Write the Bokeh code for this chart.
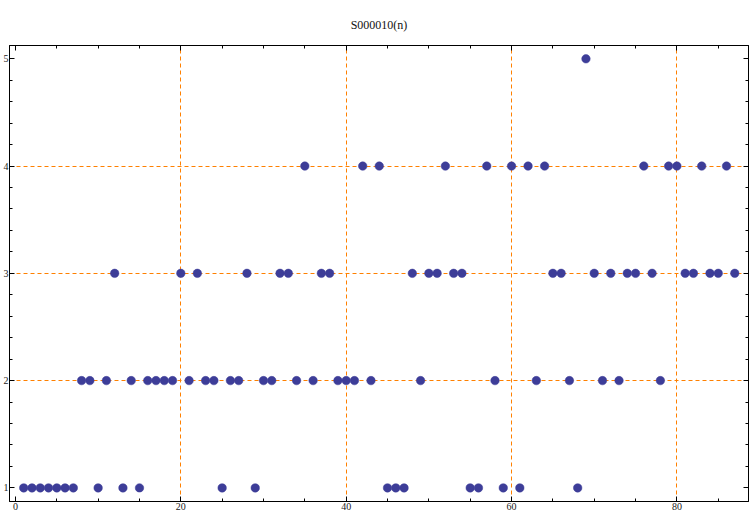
from bokeh.plotting import figure
from bokeh.models import (Range1d, SingleIntervalTicker, FixedTicker, LinearAxis, Grid)
from bokeh.embed import file_html
from bokeh.resources import INLINE

# Data: S000010(n) for n = 1..87
n_values = list(range(1, 88))
s_values = [1, 1, 1, 1, 1, 1, 1, 2, 2, 1,
            2, 3, 1, 2, 1, 2, 2, 2, 2, 3,
            2, 3, 2, 2, 1, 2, 2, 3, 1, 2,
            2, 3, 3, 2, 4, 2, 3, 3, 2, 2,
            2, 4, 2, 4, 1, 1, 1, 3, 2, 3,
            3, 4, 3, 3, 1, 1, 4, 2, 1, 4,
            1, 4, 2, 4, 3, 3, 2, 1, 5, 3,
            2, 3, 2, 3, 3, 4, 3, 2, 4, 4,
            3, 3, 4, 3, 3, 4, 3]
x_grid_ticks = [20, 40, 60, 80]
y_grid_ticks = [2, 3, 4]
x_tick_labels = [0, 20, 40, 60, 80]
y_tick_labels = [1, 2, 3, 4, 5]
title_text = "S000010(n)"

SERIF = "Liberation Serif"
ORANGE = "#ff8000"
DOT = "#3d3d98"

p = figure(width=750, height=515, output_backend="svg", toolbar_location=None,
           x_range=Range1d(-0.72, 88.66), y_range=Range1d(0.873, 5.124),
           x_axis_type=None, y_axis_type=None,
           min_border_left=8, min_border_right=2, min_border_top=45, min_border_bottom=14)
p.background_fill_color = "white"
p.border_fill_color = "white"
p.outline_line_color = "black"
p.outline_line_width = 1

xt = SingleIntervalTicker(interval=20, num_minor_ticks=4)
yt = SingleIntervalTicker(interval=1, num_minor_ticks=5)

def style(ax):
    ax.axis_line_color = "black"
    ax.major_tick_line_color = "black"
    ax.minor_tick_line_color = "black"
    ax.major_tick_in = 5
    ax.major_tick_out = 0
    ax.minor_tick_in = 3
    ax.minor_tick_out = 0
    ax.major_label_text_font = SERIF
    ax.major_label_text_font_size = "10px"
    ax.major_label_text_color = "#222222"
    ax.major_label_standoff = 1

bx = LinearAxis(ticker=xt); style(bx)
lx = LinearAxis(ticker=yt); style(lx)
tx = LinearAxis(ticker=xt); style(tx)
rx = LinearAxis(ticker=yt); style(rx)
tx.major_label_text_alpha = 0
tx.major_label_text_font_size = "1px"
tx.major_label_standoff = 0
rx.major_label_text_alpha = 0
rx.major_label_text_font_size = "1px"
rx.major_label_standoff = 0
tx.major_label_overrides = {v: "" for v in x_tick_labels}
rx.major_label_overrides = {v: "" for v in y_tick_labels}
p.add_layout(bx, "below")
p.add_layout(lx, "left")
p.add_layout(tx, "above")
p.add_layout(rx, "right")

xg = Grid(dimension=0, ticker=FixedTicker(ticks=x_grid_ticks))
yg = Grid(dimension=1, ticker=FixedTicker(ticks=y_grid_ticks))
for g in (xg, yg):
    g.grid_line_color = ORANGE
    g.grid_line_dash = "4 3"
    g.grid_line_width = 1
    p.add_layout(g)

p.scatter(n_values, s_values, size=8.5, fill_color=DOT, line_color=DOT, line_width=0.5)

p.title.text = title_text
p.title.align = "center"
p.title.text_font = SERIF
p.title.text_font_size = "12px"
p.title.text_font_style = "normal"
p.title.text_color = "#111111"
p.title.standoff = 28

open("out.html", "w").write(file_html(p, INLINE))
